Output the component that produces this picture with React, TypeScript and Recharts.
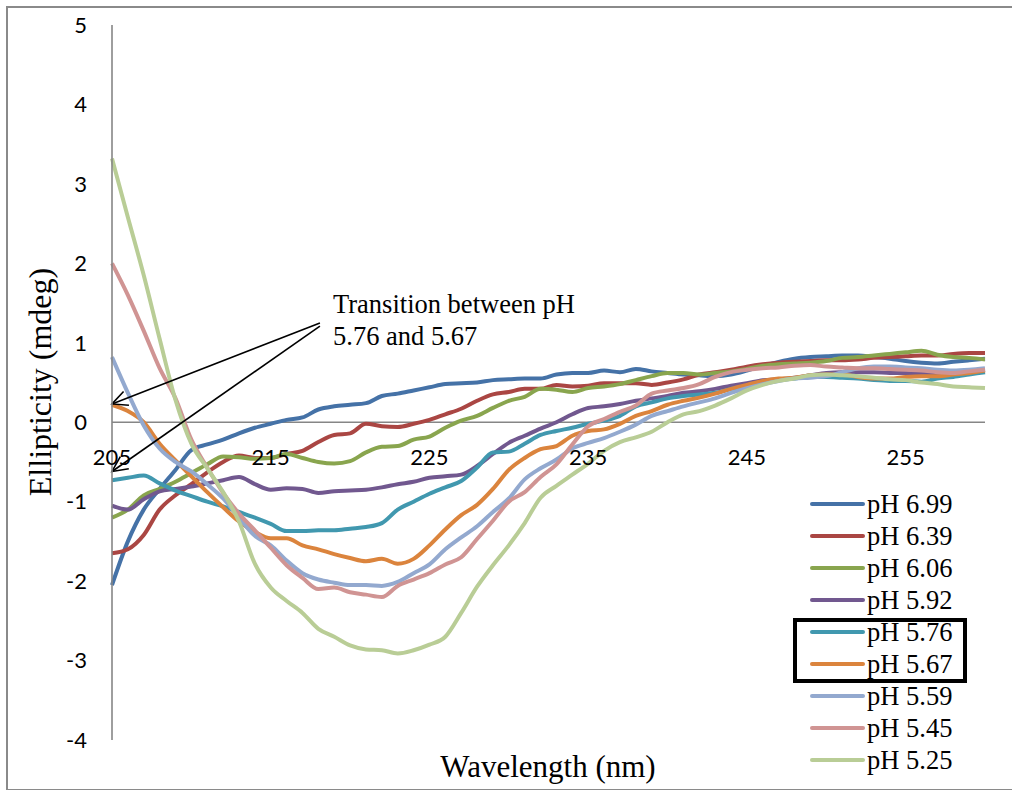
import { LineChart, Line, XAxis, YAxis, ReferenceLine, ReferenceDot } from "recharts";

// wavelength (nm), 1 nm steps
const wavelengths = [
  205, 206, 207, 208, 209, 210, 211, 212, 213, 214, 215, 216, 217, 218, 219, 220, 221, 222, 223, 224,
  225, 226, 227, 228, 229, 230, 231, 232, 233, 234, 235, 236, 237, 238, 239, 240, 241, 242, 243, 244,
  245, 246, 247, 248, 249, 250, 251, 252, 253, 254, 255, 256, 257, 258, 259, 260,
];

// ellipticity (mdeg) per pH
const ph699 = [
  -2.05, -1.5, -1.1, -0.84, -0.6, -0.35, -0.28, -0.22, -0.14, -0.07, -0.02, 0.03, 0.06, 0.16, 0.2, 0.22, 0.24, 0.33, 0.36, 0.4,
  0.44, 0.48, 0.49, 0.5, 0.53, 0.54, 0.55, 0.55, 0.6, 0.62, 0.62, 0.65, 0.63, 0.67, 0.64, 0.62, 0.6, 0.59, 0.58, 0.6,
  0.65, 0.71, 0.76, 0.8, 0.82, 0.83, 0.84, 0.84, 0.82, 0.8, 0.77, 0.75, 0.74, 0.76, 0.78, 0.8,
];
const ph639 = [
  -1.65, -1.6, -1.42, -1.1, -0.92, -0.78, -0.63, -0.5, -0.42, -0.45, -0.45, -0.4, -0.36, -0.25, -0.16, -0.14, -0.02, -0.05, -0.06, -0.02,
  0.03, 0.1, 0.17, 0.27, 0.35, 0.38, 0.42, 0.42, 0.47, 0.45, 0.46, 0.49, 0.49, 0.49, 0.47, 0.5, 0.54, 0.6, 0.63, 0.66,
  0.7, 0.73, 0.75, 0.76, 0.77, 0.78, 0.78, 0.79, 0.81, 0.82, 0.83, 0.84, 0.84, 0.86, 0.87, 0.87,
];
const ph606 = [
  -1.2, -1.1, -0.92, -0.84, -0.75, -0.64, -0.53, -0.43, -0.44, -0.46, -0.45, -0.4, -0.45, -0.5, -0.52, -0.49, -0.38, -0.31, -0.3, -0.22,
  -0.18, -0.07, 0.02, 0.08, 0.18, 0.27, 0.32, 0.42, 0.41, 0.38, 0.43, 0.45, 0.48, 0.53, 0.58, 0.62, 0.62, 0.6, 0.62, 0.64,
  0.67, 0.71, 0.73, 0.74, 0.75, 0.77, 0.81, 0.82, 0.84, 0.86, 0.88, 0.9, 0.85, 0.82, 0.81, 0.79,
];
const ph592 = [
  -1.05, -1.1, -0.97, -0.87, -0.84, -0.81, -0.77, -0.73, -0.69, -0.78, -0.85, -0.83, -0.84, -0.89, -0.87, -0.86, -0.85, -0.82, -0.78, -0.75,
  -0.7, -0.68, -0.66, -0.55, -0.4, -0.26, -0.17, -0.08, 0.0, 0.1, 0.18, 0.2, 0.23, 0.27, 0.3, 0.33, 0.37, 0.39, 0.42, 0.46,
  0.49, 0.53, 0.54, 0.56, 0.59, 0.62, 0.63, 0.63, 0.63, 0.62, 0.62, 0.61, 0.6, 0.62, 0.64, 0.66,
];
const ph576 = [
  -0.73, -0.7, -0.67, -0.77, -0.86, -0.93, -1.0, -1.06, -1.13, -1.2, -1.28, -1.37, -1.37, -1.36, -1.36, -1.34, -1.32, -1.27, -1.1, -1.0,
  -0.9, -0.82, -0.74, -0.57, -0.38, -0.37, -0.27, -0.16, -0.11, -0.07, -0.02, 0.02, 0.08, 0.2, 0.25, 0.3, 0.33, 0.35, 0.37, 0.42,
  0.46, 0.5, 0.53, 0.55, 0.57, 0.57, 0.56, 0.55, 0.53, 0.52, 0.52, 0.51, 0.55, 0.57, 0.6, 0.63,
];
const ph567 = [
  0.22, 0.14, 0.0, -0.27, -0.48, -0.68, -0.88, -1.07, -1.25, -1.38, -1.46, -1.46, -1.55, -1.6, -1.66, -1.71, -1.75, -1.72, -1.78, -1.72,
  -1.55, -1.35, -1.17, -1.04, -0.84, -0.6, -0.45, -0.34, -0.3, -0.17, -0.11, -0.09, -0.02, 0.08, 0.14, 0.22, 0.27, 0.31, 0.36, 0.42,
  0.47, 0.52, 0.55, 0.56, 0.59, 0.6, 0.6, 0.57, 0.55, 0.55, 0.57, 0.58, 0.58, 0.6, 0.62, 0.65,
];
const ph559 = [
  0.82, 0.37, -0.04, -0.33, -0.5, -0.62, -0.78, -0.96, -1.2, -1.43, -1.55, -1.74, -1.9, -1.98, -2.02, -2.05, -2.05, -2.06, -2.01, -1.9,
  -1.79, -1.6, -1.45, -1.31, -1.13, -0.96, -0.72, -0.58, -0.47, -0.33, -0.26, -0.2, -0.12, -0.03, 0.08, 0.14, 0.2, 0.25, 0.3, 0.37,
  0.43, 0.48, 0.52, 0.55, 0.56, 0.58, 0.63, 0.68, 0.7, 0.7, 0.69, 0.68, 0.66, 0.65, 0.66, 0.68,
];
const ph545 = [
  2.0, 1.6, 1.15, 0.68, 0.3, -0.22, -0.57, -0.89, -1.15, -1.36, -1.58, -1.8, -1.96, -2.1, -2.08, -2.14, -2.17, -2.2, -2.06, -1.98,
  -1.9, -1.79, -1.7, -1.47, -1.24, -1.0, -0.88, -0.69, -0.53, -0.28, -0.05, 0.04, 0.13, 0.21, 0.36, 0.4, 0.43, 0.48, 0.57, 0.63,
  0.66, 0.68, 0.69, 0.71, 0.72, 0.7, 0.69, 0.68, 0.68, 0.67, 0.66, 0.65, 0.63, 0.62, 0.64, 0.66,
];
const ph525 = [
  3.32, 2.58, 1.85, 1.05, 0.28, -0.27, -0.58, -0.88, -1.25, -1.78, -2.08, -2.25, -2.4, -2.6, -2.7, -2.81, -2.86, -2.87, -2.91, -2.87,
  -2.8, -2.7, -2.4, -2.07, -1.8, -1.55, -1.27, -0.95, -0.8, -0.66, -0.52, -0.36, -0.25, -0.19, -0.12, 0.0, 0.1, 0.14, 0.21, 0.3,
  0.4, 0.47, 0.52, 0.55, 0.59, 0.6, 0.59, 0.58, 0.56, 0.54, 0.53, 0.5, 0.48, 0.45, 0.44, 0.43,
];

const seriesNames = ["pH 6.99", "pH 6.39", "pH 6.06", "pH 5.92", "pH 5.76", "pH 5.67", "pH 5.59", "pH 5.45", "pH 5.25"];
const seriesValues = [ph699, ph639, ph606, ph592, ph576, ph567, ph559, ph545, ph525];
const seriesColors = ["#4572A7", "#AA4643", "#89A54E", "#71588F", "#4198AF", "#DB843D", "#93A9CF", "#D09493", "#B9CD96"];

const xTicks = [205, 215, 225, 235, 245, 255];
const yTicks = [-4, -3, -2, -1, 0, 1, 2, 3, 4, 5];

const rows = wavelengths.map((wl, i) => {
  const r: Record<string, number> = { wl };
  seriesNames.forEach((n, s) => (r[n] = seriesValues[s][i]));
  return r;
});

const SANS = "Lato, 'Open Sans', sans-serif";
const SERIF = "'Liberation Serif', 'DejaVu Serif', serif";

type ArrowProps = { x1?: number; y1?: number; x2?: number; y2?: number };

/** annotation arrow: straight line with an open V head at the end point */
function Arrow({ x1 = 0, y1 = 0, x2 = 0, y2 = 0 }: ArrowProps) {
  const a = Math.atan2(y1 - y2, x1 - x2);
  const len = 17;
  const spread = 0.45;
  const hx1 = x2 + len * Math.cos(a + spread);
  const hy1 = y2 + len * Math.sin(a + spread);
  const hx2 = x2 + len * Math.cos(a - spread);
  const hy2 = y2 + len * Math.sin(a - spread);
  return (
    <g stroke="#000" strokeWidth={1.6} fill="none">
      <line x1={x1} y1={y1} x2={x2} y2={y2} />
      <polyline points={`${hx1},${hy1} ${x2},${y2} ${hx2},${hy2}`} />
    </g>
  );
}

export default function App() {
  return (
    <div style={{ position: "fixed", left: 0, top: 0, width: 1012, height: 790, overflow: "hidden", background: "#fff" }}>
      {/* chart frame (runs off the right edge in the original) */}
      <div style={{ position: "absolute", left: 6, top: 6, width: 1030, height: 781, border: "2px solid #8a8a8a" }} />

      <div style={{ position: "absolute", left: 0, top: 0 }}>
        <LineChart width={1012} height={790} data={rows} margin={{ top: 25, right: 27, bottom: 50, left: 52 }}>
          <XAxis dataKey="wl" type="number" domain={[205, 260]} hide />
          <YAxis
            domain={[-4, 5]}
            ticks={yTicks}
            interval={0}
            width={60}
            axisLine={{ stroke: "#868686", strokeWidth: 1.6 }}
            tickLine={false}
            tickSize={0}
            tickMargin={25}
            tick={{ fill: "#000", fontSize: 22, fontFamily: SANS }}
          />
          <ReferenceLine y={0} stroke="#868686" strokeWidth={1.6} />
          {xTicks.map((t) => (
            <ReferenceDot
              key={t}
              x={t}
              y={0}
              r={0}
              stroke="none"
              fill="none"
              label={{ value: String(t), position: "bottom", offset: 27, fill: "#000", fontSize: 22, fontFamily: SANS }}
            />
          ))}
          {seriesNames.map((n, s) => (
            <Line
              key={n}
              dataKey={n}
              type="monotone"
              stroke={seriesColors[s]}
              strokeWidth={4}
              dot={false}
              isAnimationActive={false}
            />
          ))}
          <ReferenceLine segment={[{ x: 218.1, y: 1.25 }, { x: 205, y: 0.23 }]} shape={(p: ArrowProps) => <Arrow {...p} />} />
          <ReferenceLine segment={[{ x: 218.1, y: 1.21 }, { x: 205, y: -0.62 }]} shape={(p: ArrowProps) => <Arrow {...p} />} />
        </LineChart>
      </div>

      {/* annotation */}
      <div style={{ position: "absolute", left: 333, top: 288, fontFamily: SERIF, fontSize: 26.5, lineHeight: "32px", color: "#000" }}>
        Transition between pH
        <br />
        5.76 and 5.67
      </div>

      {/* axis titles */}
      <div
        style={{
          position: "absolute",
          left: 40,
          top: 382,
          transform: "translate(-50%, -50%) rotate(-90deg)",
          whiteSpace: "nowrap",
          fontFamily: SERIF,
          fontSize: 32,
          color: "#000",
        }}
      >
        Ellipticity (mdeg)
      </div>
      <div
        style={{
          position: "absolute",
          left: 548,
          top: 767,
          transform: "translate(-50%, -50%)",
          whiteSpace: "nowrap",
          fontFamily: SERIF,
          fontSize: 31,
          color: "#000",
        }}
      >
        Wavelength (nm)
      </div>

      {/* legend */}
      <div style={{ position: "absolute", left: 810, top: 488 }}>
        {seriesNames.map((n, s) => (
          <div key={n} style={{ display: "flex", alignItems: "center", height: 32 }}>
            <span style={{ display: "inline-block", width: 55, height: 4, borderRadius: 2, background: seriesColors[s] }} />
            <span style={{ marginLeft: 2, fontFamily: SERIF, fontSize: 26.5, color: "#000", whiteSpace: "nowrap" }}>{n}</span>
          </div>
        ))}
      </div>
      <div
        style={{
          position: "absolute",
          left: 793,
          top: 618,
          width: 174,
          height: 65,
          border: "4px solid #000",
          boxSizing: "border-box",
        }}
      />
    </div>
  );
}
